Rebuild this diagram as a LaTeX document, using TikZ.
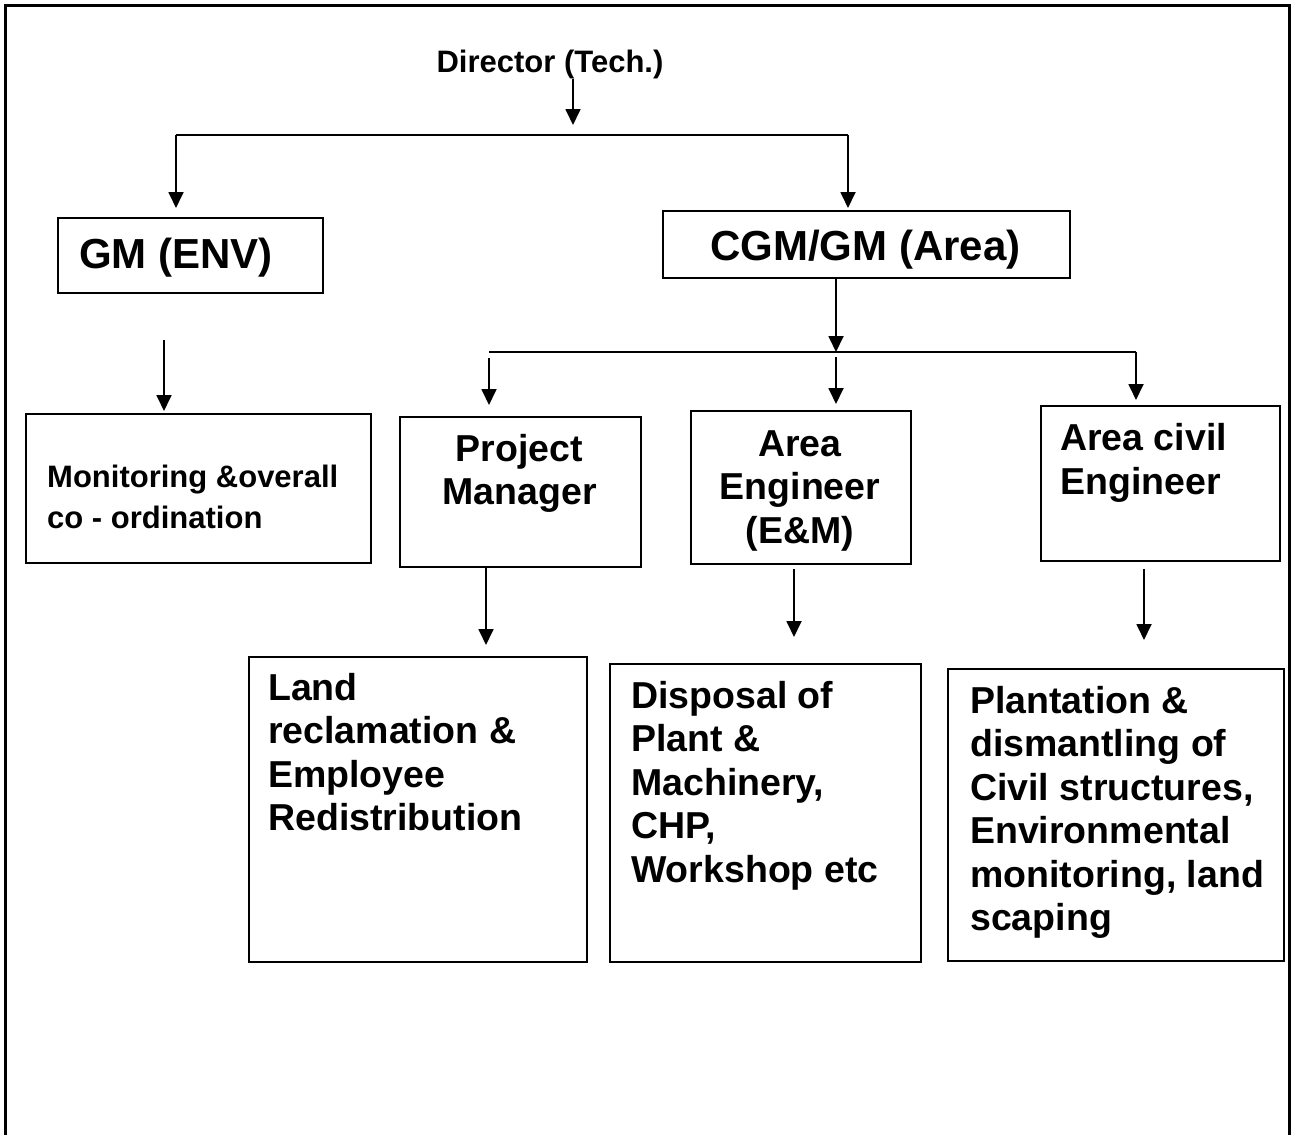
\documentclass[tikz,border=0pt]{standalone}
\usepackage{fontspec}
\setmainfont{Liberation Sans}
\usetikzlibrary{arrows.meta}
\tikzset{   frame/.style = {line width=3pt},
            unitbox/.style = {rectangle, draw = black, line width=1.8pt, anchor=north west, inner sep=0pt},
            link/.style = {line width=1.8pt},
            arr/.style = {line width=1.8pt, -{Triangle[length=16pt, width=15pt]}},
            smalltxt/.style = {inner sep=0pt, align=left, font=\bfseries\fontsize{31}{41}\selectfont},
            headtxt/.style = {inner sep=0pt, font=\bfseries\fontsize{42}{48}\selectfont},
            tasktxt/.style = {inner sep=0pt, font=\bfseries\fontsize{37.5}{43.5}\selectfont}}
\begin{document}
\begin{tikzpicture}[x=1pt, y=-1pt]
\useasboundingbox (0,0) rectangle (1294,1135);
\draw[frame] (5,1135) -- (5,5) -- (1289,5) -- (1289,1135);

% top level
\node[smalltxt, anchor=base] (dir) at (550,72) {Director (Tech.)};
\node[unitbox, minimum width=265, minimum height=75] (gmenv) at (57,217) {};
\node[headtxt, anchor=base west] (gmenvtxt) at (79,268) {GM (ENV)};
\node[unitbox, minimum width=407, minimum height=67] (cgm) at (662,210) {};
\node[headtxt, anchor=base] (cgmtxt) at (865.5,260) {CGM/GM (Area)};

% second level (base = last line)
\node[unitbox, minimum width=345, minimum height=149] (mon) at (25,413) {};
\node[smalltxt, anchor=base west] (montxt) at (47,528) {Monitoring \&overall\\co - ordination};
\node[unitbox, minimum width=241, minimum height=150] (pm) at (399,416) {};
\node[tasktxt, align=center, anchor=base] (pmtxt) at (519.5,504.5) {Project\\Manager};
\node[unitbox, minimum width=220, minimum height=153] (em) at (690,410) {};
\node[tasktxt, align=center, anchor=base] (emtxt) at (800,543) {Area\\Engineer\\(E\&M)};
\node[unitbox, minimum width=239, minimum height=155] (civ) at (1040,405) {};
\node[tasktxt, align=left, anchor=base west] (civtxt) at (1060,494) {Area civil\\Engineer};

% third level
\node[unitbox, minimum width=338, minimum height=305] (land) at (248,656) {};
\node[tasktxt, align=left, anchor=base west] (landtxt) at (268,830.5) {Land\\reclamation \&\\Employee\\Redistribution};
\node[unitbox, minimum width=311, minimum height=298] (disp) at (609,663) {};
\node[tasktxt, align=left, anchor=base west] (disptxt) at (631,882) {Disposal of\\Plant \&\\Machinery,\\CHP,\\Workshop etc};
\node[unitbox, minimum width=336, minimum height=292] (plant) at (947,668) {};
\node[tasktxt, align=left, anchor=base west] (planttxt) at (970,930.5) {Plantation \&\\dismantling of\\Civil structures,\\Environmental\\monitoring, land\\scaping};

% connectors
\coordinate (dirtip) at (573,125);
\coordinate (busL) at (176,135);
\coordinate (busR) at (848,135);
\coordinate (gmin) at (176,208);
\coordinate (cgmin) at (848,208);
\draw[arr] (dirtip |- dir.south) -- (dirtip);
\draw[link] (busL) -- (busR);
\draw[arr] (busL) -- (gmin);
\draw[arr] (busR) -- (cgmin);

\coordinate (gmout) at (164,340);
\coordinate (monin) at (164,411);
\draw[arr] (gmout) -- (monin);

\coordinate (bus2L) at (489,352);
\coordinate (bus2m) at (836,352);
\coordinate (bus2R) at (1136,352);
\coordinate (pmin) at (489,405);
\coordinate (emin) at (836,404);
\coordinate (civin) at (1136,400);
\draw[arr] (cgm.south -| bus2m) -- (bus2m);
\draw[link] (bus2L) -- (bus2R);
\draw[arr, shorten <=6pt] (bus2L) -- (pmin);
\draw[arr, shorten <=5pt] (bus2m) -- (emin);
\draw[arr] (bus2R) -- (civin);

\coordinate (landin) at (486,645);
\coordinate (dispin) at (794,637);
\coordinate (plantin) at (1144,640);
\draw[arr] (pm.south -| landin) -- (landin);
\draw[arr, shorten <=4pt] (em.south -| dispin) -- (dispin);
\draw[arr, shorten <=7pt] (civ.south -| plantin) -- (plantin);
\end{tikzpicture}
\end{document}
